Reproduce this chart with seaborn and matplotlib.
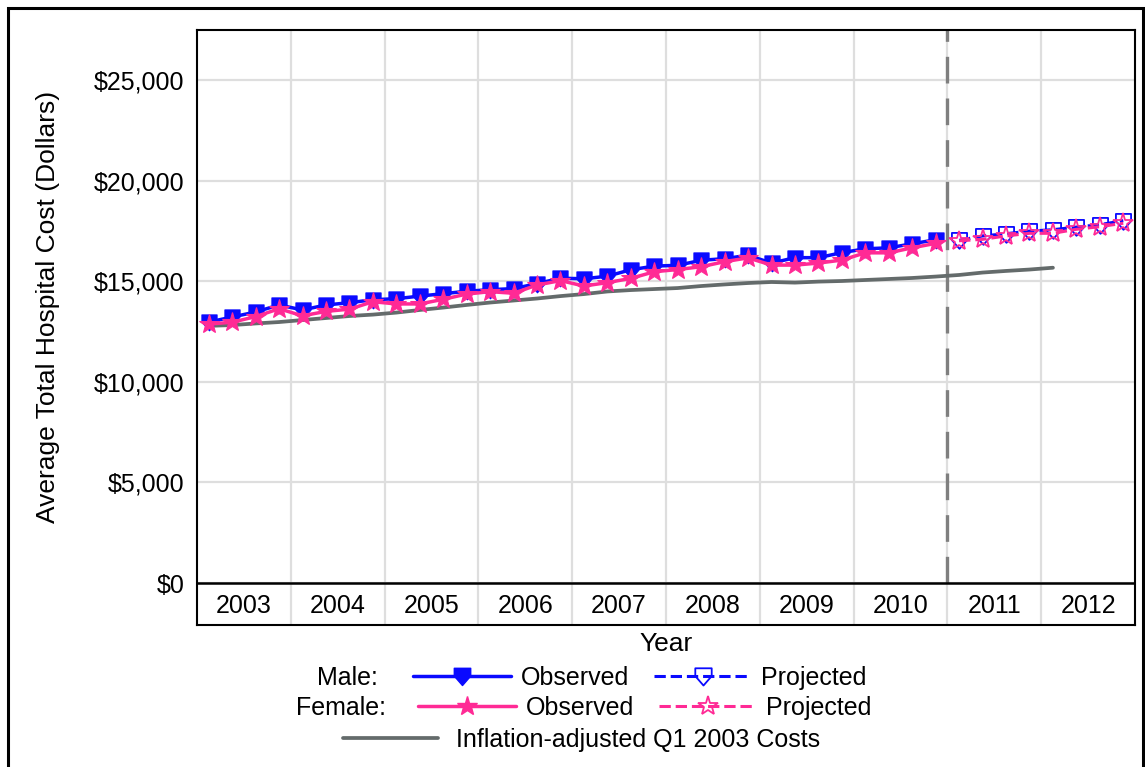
import matplotlib
matplotlib.use("Agg")
import matplotlib.pyplot as plt
import seaborn as sns
from matplotlib.path import Path
from matplotlib.lines import Line2D
from matplotlib.patches import Rectangle

# ---------------- data ----------------
years = list(range(2003, 2013))
year_labels = [str(y) for y in years]
quarters = [1, 2, 3, 4]

obs_years = list(range(2003, 2011))
proj_years = [2011, 2012]

male_obs = [12970, 13220, 13470, 13820,
            13570, 13820, 13930, 14080,
            14130, 14260, 14380, 14500,
            14580, 14630, 14880, 15150,
            15120, 15250, 15570, 15750,
            15790, 16040, 16120, 16290,
            15900, 16170, 16170, 16420,
            16610, 16660, 16860, 17060]
female_obs = [12870, 12960, 13240, 13630,
              13280, 13500, 13610, 13980,
              13870, 13870, 14100, 14360,
              14480, 14400, 14810, 15030,
              14760, 14930, 15140, 15470,
              15580, 15720, 15970, 16160,
              15800, 15800, 15900, 16050,
              16410, 16410, 16660, 16880]
male_proj = [17030, 17250, 17360, 17490,
             17560, 17690, 17810, 18010]
female_proj = [17010, 17080, 17250, 17380,
               17380, 17580, 17710, 17880]
inflation = [12780, 12820, 12900, 12970,
             13070, 13170, 13270, 13340,
             13440, 13570, 13690, 13820,
             13940, 14040, 14140, 14260,
             14360, 14490, 14560, 14610,
             14660, 14760, 14840, 14910,
             14960, 14930, 14980, 15010,
             15060, 15110, 15160, 15230,
             15310, 15430, 15510, 15580,
             15670]
projection_start = 2011
y_ticks = [0, 5000, 10000, 15000, 20000, 25000]


def qpos(yrs):
    return [y + (q - 0.5) / 4 for y in yrs for q in quarters]


x_obs = qpos(obs_years)
x_proj = qpos(proj_years)
x_infl = qpos(list(range(2003, 2013)))[:len(inflation)]

# ---------------- style ----------------
sns.set_style("white")
plt.rcParams["font.family"] = ["Liberation Sans", "DejaVu Sans"]
plt.rcParams["text.color"] = "black"
plt.rcParams["axes.labelcolor"] = "black"
plt.rcParams["xtick.color"] = "black"
plt.rcParams["ytick.color"] = "black"

BLUE = "#0a0aff"
PINK = "#ff2a95"
GRAY = "#646b6b"
GRID = "#dedede"

home = Path([(-1, 1), (1, 1), (1, 0.05), (0, -1.1), (-1, 0.05), (-1, 1)],
            [Path.MOVETO, Path.LINETO, Path.LINETO, Path.LINETO, Path.LINETO, Path.CLOSEPOLY])

fig = plt.figure(figsize=(11.45, 7.67), dpi=100)
ax = fig.add_axes([197 / 1145, 1 - 625 / 767, 938 / 1145, 595 / 767])
ax.set_xlim(2003, 2013)
ax.set_ylim(-2087, 27485)

# grid
ax.set_xticks(range(2004, 2013), minor=True)
ax.grid(which="minor", axis="x", color=GRID, lw=1.6, zorder=0)
ax.set_yticks(y_ticks, [f"${v:,}" for v in y_ticks])
ax.grid(which="major", axis="y", color=GRID, lw=1.6, zorder=0)
ax.set_xticks([y + 0.5 for y in years], year_labels)
ax.tick_params(axis="x", which="both", length=0, pad=-22, labelsize=18, labelcolor="black")
ax.tick_params(axis="y", length=0, pad=9, labelsize=18, labelcolor="black")

ax.axhline(0, color="black", lw=1.8, zorder=2)
ax.vlines(projection_start, 0, 27485, colors="#7f7f7f", lw=2.4,
          linestyles=(0, (8, 4.5)), zorder=1.5)

# series
sns.lineplot(x=x_infl, y=inflation, ax=ax, color=GRAY, lw=2.7, zorder=3)
sns.lineplot(x=x_obs, y=male_obs, ax=ax, color=BLUE, lw=2.5, marker=home,
             ms=12, mfc=BLUE, mec=BLUE, mew=0.8, zorder=4)
sns.lineplot(x=x_proj, y=male_proj, ax=ax, color=BLUE, lw=2.2, linestyle="--",
             marker=home, ms=12, mfc="none", mec=BLUE, mew=1.3, zorder=4)
sns.lineplot(x=x_obs, y=female_obs, ax=ax, color=PINK, lw=2.5, marker="*",
             ms=15, mfc=PINK, mec=PINK, mew=0.8, zorder=5)
sns.lineplot(x=x_proj, y=female_proj, ax=ax, color=PINK, lw=2.2, linestyle="--",
             marker="*", ms=15, mfc="none", mec=PINK, mew=1.3, zorder=5)

for s in ax.spines.values():
    s.set_visible(True)
    s.set_color("black")
    s.set_linewidth(1.5)

ax.set_xlabel("Year", fontsize=19, labelpad=5, color="black")
ax.set_ylabel("Average Total Hospital Cost (Dollars)", fontsize=19, color="black")
ax.yaxis.set_label_coords(-0.146, 0.534)

# legend
h_mo = Line2D([], [], color=BLUE, lw=2.5, marker=home, ms=13, mfc=BLUE, mec=BLUE)
h_mp = Line2D([], [], color=BLUE, lw=2.2, ls="--", marker=home, ms=13, mfc="none", mec=BLUE, mew=1.3)
h_fo = Line2D([], [], color=PINK, lw=2.5, marker="*", ms=15, mfc=PINK, mec=PINK)
h_fp = Line2D([], [], color=PINK, lw=2.2, ls="--", marker="*", ms=15, mfc="none", mec=PINK, mew=1.3)
h_in = Line2D([], [], color=GRAY, lw=2.7)

common = dict(frameon=False, borderpad=0, borderaxespad=0, fontsize=18,
              ncol=2, handletextpad=0.4, columnspacing=1.0, handlelength=3.9,
              loc="center left", labelcolor="black")
fig.legend([h_mo, h_mp], ["Observed", "Projected"],
           bbox_to_anchor=(413 / 1145, 1 - 678 / 767), **common)
fig.legend([h_fo, h_fp], ["Observed", "Projected"],
           bbox_to_anchor=(418 / 1145, 1 - 708 / 767), **common)
common3 = dict(common)
common3.update(ncol=1, handletextpad=0.7, handlelength=3.8)
fig.legend([h_in], ["Inflation-adjusted Q1 2003 Costs"],
           bbox_to_anchor=(343 / 1145, 1 - 740 / 767), **common3)
fig.text(317 / 1145, 1 - 678 / 767, "Male:", fontsize=18, ha="left", va="center", color="black")
fig.text(296 / 1145, 1 - 708 / 767, "Female:", fontsize=18, ha="left", va="center", color="black")

# outer frame
fig.patches.append(Rectangle((8 / 1145, -0.02), 1135 / 1145, 1 - 8 / 767 + 0.02,
                             transform=fig.transFigure, fill=False,
                             edgecolor="black", lw=2.2))

fig.savefig("out.png", dpi=100)
